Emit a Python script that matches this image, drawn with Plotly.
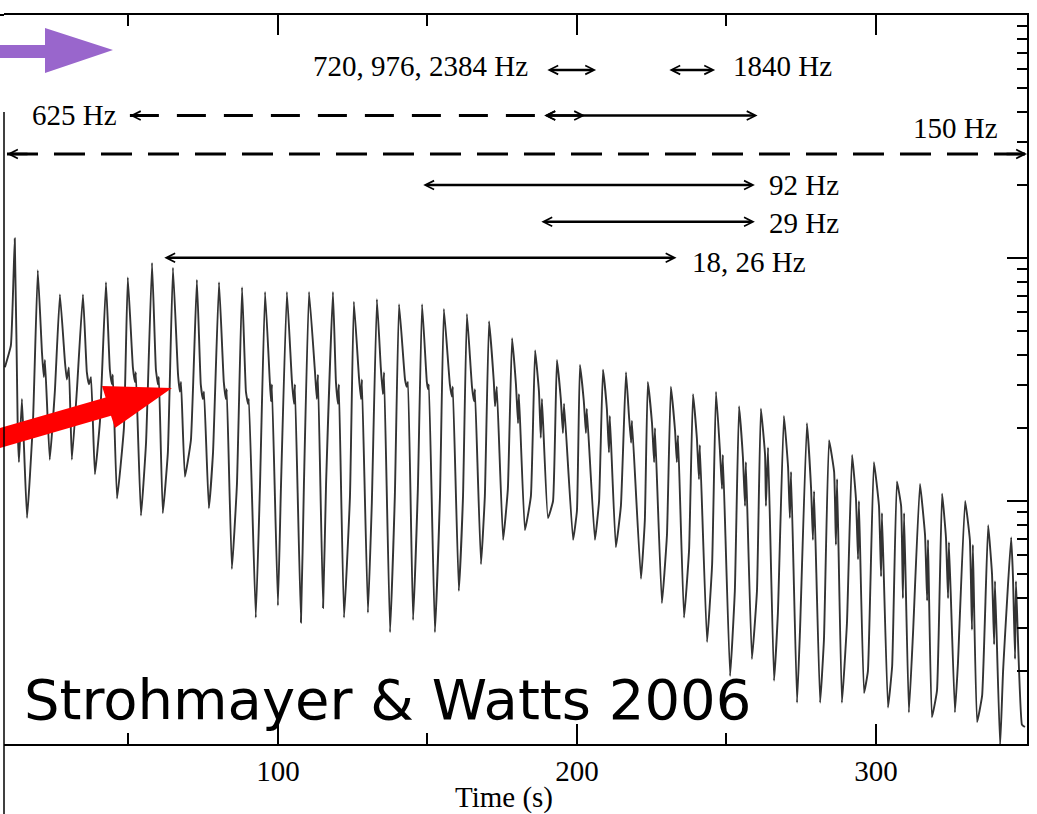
import plotly.graph_objects as go

# ---------------- light-curve data (time in s, log10 count rate) ----------------
start_t = [8.7, 10.7]
start_v = [4.55, 4.64]

peak_t = [12.0, 19.7, 27.1, 34.8, 42.5, 49.8, 57.9, 64.9, 72.9, 80.3,
          88.0, 95.7, 103.0, 110.4, 118.4, 125.4, 133.1, 140.5, 148.2, 155.5,
          163.2, 170.6, 178.3, 186.0, 193.3, 201.0, 208.7, 216.4, 223.7, 231.4,
          238.8, 246.5, 254.2, 261.5, 269.2, 276.9, 284.3, 292.0, 299.3, 307.0,
          314.7, 322.1, 329.8, 337.5, 345.2]
peak_v = [5.08, 4.95, 4.85, 4.85, 4.90, 4.92, 4.98, 4.96, 4.91, 4.90,
          4.88, 4.86, 4.86, 4.86, 4.86, 4.82, 4.83, 4.81, 4.81, 4.79,
          4.77, 4.74, 4.67, 4.62, 4.58, 4.56, 4.54, 4.53, 4.49, 4.47,
          4.44, 4.45, 4.39, 4.38, 4.35, 4.32, 4.25, 4.19, 4.16, 4.08,
          4.07, 4.03, 4.00, 3.90, 3.85]

shoulder_hi_t = [13.0, 21.1, 28.8, 36.1, 43.8, 51.5, 59.2, 66.6, 74.2, 81.9,
                 89.3, 97.3, 104.7, 112.4, 119.4, 127.1, 134.4, 142.5, 149.8, 157.5,
                 164.9, 172.2, 179.6, 187.3, 194.6, 202.3, 210.0, 217.4, 225.1, 232.8,
                 240.1, 247.8, 255.5, 262.9, 270.6, 278.3, 286.0, 293.3, 301.0, 308.4,
                 316.4, 323.4, 331.4, 338.8, 345.8]
shoulder_hi_v = [4.29, 4.61, 4.57, 4.53, 4.54, 4.55, 4.54, 4.52, 4.48, 4.49,
                 4.45, 4.49, 4.49, 4.53, 4.49, 4.51, 4.55, 4.50, 4.49, 4.48,
                 4.47, 4.49, 4.48, 4.45, 4.42, 4.41, 4.38, 4.35, 4.32, 4.29,
                 4.26, 4.21, 4.18, 4.19, 4.14, 4.05, 4.12, 4.01, 3.98, 3.98,
                 3.86, 3.85, 3.84, 3.70, 3.69]

shoulder_dip_t = [13.4, 21.7, 29.4, 36.8, 44.5, 52.2, 59.9, 67.2, 74.9, 82.6,
                  90.0, 97.7, 105.4, 113.0, 120.1, 127.8, 135.1, 143.1, 150.2, 158.2,
                  165.6, 172.6, 180.3, 187.9, 195.3, 203.0, 210.7, 218.1, 225.8, 233.4,
                  240.8, 248.5, 256.2, 263.2, 271.2, 278.9, 286.6, 294.0, 301.7, 309.0,
                  317.1, 324.1, 332.1, 339.5, 346.5]
shoulder_dip_v = [4.16, 4.51, 4.50, 4.48, 4.48, 4.49, 4.48, 4.45, 4.42, 4.42,
                  4.40, 4.41, 4.40, 4.42, 4.40, 4.42, 4.44, 4.47, 4.46, 4.43,
                  4.41, 4.39, 4.32, 4.26, 4.28, 4.28, 4.20, 4.24, 4.16, 4.16,
                  4.09, 4.05, 3.98, 3.98, 3.93, 3.84, 3.82, 3.76, 3.69, 3.60,
                  3.59, 3.60, 3.47, 3.41, 3.35]

shoulder_bump_t = [14.4, 22.1, 30.1, 37.5, 44.8, 52.5, 60.2, 67.6, 75.3, 82.9,
                   90.3, 98.0, 105.7, 113.4, 120.4, 128.1, 135.5, 143.5, 150.5, 158.5,
                   165.9, 173.2, 180.6, 188.3, 195.7, 203.3, 211.0, 218.4, 226.1, 233.8,
                   241.1, 248.8, 256.5, 263.9, 271.6, 279.3, 287.0, 294.3, 302.0, 309.4,
                   317.4, 324.4, 332.4, 339.8, 346.8]
shoulder_bump_v = [4.42, 4.58, 4.55, 4.51, 4.52, 4.53, 4.51, 4.49, 4.45, 4.46,
                   4.42, 4.48, 4.48, 4.52, 4.48, 4.50, 4.53, 4.49, 4.48, 4.47,
                   4.46, 4.47, 4.44, 4.42, 4.40, 4.38, 4.35, 4.33, 4.30, 4.27,
                   4.23, 4.19, 4.16, 4.22, 4.12, 4.04, 4.09, 4.00, 3.95, 3.95,
                   3.84, 3.83, 3.82, 3.67, 3.67]

trough_t = [16.1, 23.7, 31.1, 38.8, 46.2, 54.2, 61.5, 68.9, 76.9, 84.6,
            92.6, 100.0, 107.7, 115.1, 122.1, 130.1, 137.5, 145.2, 152.5, 160.5,
            167.9, 175.3, 182.6, 190.3, 198.7, 206.0, 213.0, 221.4, 228.4, 235.8,
            243.5, 251.2, 258.5, 265.9, 273.6, 281.3, 288.6, 296.0, 304.0, 311.0,
            318.7, 326.4, 333.8, 341.5, 348.8]
trough_v = [3.93, 4.17, 4.17, 4.11, 4.01, 3.94, 3.95, 4.10, 3.97, 3.72,
            3.52, 3.57, 3.50, 3.56, 3.52, 3.54, 3.46, 3.51, 3.46, 3.63,
            3.74, 3.84, 3.88, 3.93, 3.84, 3.84, 3.81, 3.68, 3.58, 3.52,
            3.42, 3.28, 3.35, 3.26, 3.17, 3.17, 3.17, 3.21, 3.15, 3.13,
            3.11, 3.13, 3.09, 2.99, 3.08]

rise_t = [18.1, 25.4, 32.8, 40.5, 48.5, 55.9, 63.2, 70.9, 78.3, 86.3,
          94.0, 101.0, 108.7, 116.1, 124.1, 131.4, 139.1, 146.8, 154.2, 161.9,
          169.2, 176.9, 184.6, 192.0, 200.0, 207.4, 214.7, 222.7, 230.1, 237.5,
          245.2, 252.8, 260.2, 267.2, 274.6, 282.6, 290.3, 297.3, 305.4, 312.4,
          320.4, 327.4, 335.5, 342.5]
rise_v = [4.33, 4.45, 4.46, 4.33, 4.30, 4.24, 4.20, 4.25, 4.20, 4.07,
          4.06, 4.05, 4.07, 4.07, 4.02, 3.99, 4.02, 4.05, 4.02, 4.02,
          4.02, 4.05, 4.02, 4.00, 3.96, 4.00, 3.98, 3.92, 3.86, 3.80,
          3.74, 3.63, 3.63, 3.54, 3.47, 3.43, 3.50, 3.30, 3.32, 3.46,
          3.22, 3.33, 3.20, 3.30]

end_t = [349.8]
end_v = [3.07]

# ---------------- QPO annotation data (time in s, log10 level) ----------------
solid_arrows = [  # (t_start, t_end, log level)
    (189.6, 206.4, 5.774),
    (230.4, 246.2, 5.774),
    (188.6, 260.4, 5.586),
    (188.6, 202.7, 5.586),
    (148.1, 259.5, 5.300),
    (187.6, 259.5, 5.149),
    (61.5, 233.3, 5.001),
]
dashed_lines = [  # (t_start, t_end, log level, dash)
    (50.5, 188.6, 5.586, "29px,18px"),
    (9.4, 350.5, 5.428, "31px,16px"),
]
dashed_heads = [  # (tip t, log level, tail offset px)
    (50.5, 5.586, 22),
    (9.4, 5.428, 22),
    (350.5, 5.428, -22),
]
qpo_labels = [  # (text, t, log level, anchor)
    ("720, 976, 2384 Hz", 184.3, 5.790, "right"),
    ("1840 Hz", 251.5, 5.790, "left"),
    ("625 Hz", 46.8, 5.590, "right"),
    ("150 Hz", 341.5, 5.535, "right"),
    ("92 Hz", 263.5, 5.300, "left"),
    ("29 Hz", 263.5, 5.146, "left"),
    ("18, 26 Hz", 237.8, 4.984, "left"),
]

# ---------------- assemble light curve ----------------
t = list(start_t)
v = list(start_v)
for i in range(len(peak_t)):
    t += [peak_t[i], shoulder_hi_t[i], shoulder_dip_t[i], shoulder_bump_t[i], trough_t[i]]
    v += [peak_v[i], shoulder_hi_v[i], shoulder_dip_v[i], shoulder_bump_v[i], trough_v[i]]
    if i < len(rise_t):
        t.append(rise_t[i])
        v.append(rise_v[i])
t += end_t
v += end_v
rate = [10 ** x for x in v]

SERIF = "Liberation Serif"
fig = go.Figure()
fig.add_trace(go.Scatter(x=t, y=rate, mode="lines",
                         line=dict(color="#333333", width=1.9, shape="spline",
                                   smoothing=0.35),
                         hoverinfo="skip", showlegend=False))

for t0, t1, lv, dash in dashed_lines:
    fig.add_trace(go.Scatter(x=[t0, t1], y=[10 ** lv, 10 ** lv], mode="lines",
                             line=dict(color="black", width=3, dash=dash),
                             hoverinfo="skip", showlegend=False))

annotations = []
for t0, t1, lv in solid_arrows:
    annotations.append(dict(x=t1, y=lv, ax=t0, ay=lv, xref="x", yref="y",
                            axref="x", ayref="y", text="", showarrow=True,
                            arrowside="end+start", arrowhead=5, startarrowhead=5,
                            arrowsize=0.7, startarrowsize=0.7, arrowwidth=2.5,
                            arrowcolor="black"))
for tt, lv, off in dashed_heads:
    annotations.append(dict(x=tt, y=lv, ax=off, ay=0, xref="x", yref="y",
                            text="", showarrow=True, arrowhead=5, arrowsize=0.7,
                            arrowwidth=2.5, arrowcolor="black"))
for txt, tt, lv, anc in qpo_labels:
    annotations.append(dict(x=tt, y=lv, xref="x", yref="y", text=txt,
                            showarrow=False, xanchor=anc, yanchor="middle",
                            font=dict(family=SERIF, size=29, color="black")))

# ---------------- overlay decorations (figure pixels -> paper) ----------------
W, H = 1037, 814
ML, MR, MT, MB = 4, 10, 15, 70
PW, PH = W - ML - MR, H - MT - MB


def px(xp, yp):
    return (xp - ML) / PW, (H - MB - yp) / PH


def path_of(points):
    s = ""
    for k, (a, b) in enumerate(points):
        X, Y = px(a, b)
        s += ("M" if k == 0 else "L") + f"{X:.5f},{Y:.5f} "
    return s + "Z"


purple_arrow = [(-2, 45), (45, 45), (45, 28), (113, 50), (45, 73), (45, 58), (-2, 58)]
red_arrow = [(-2, 428.6), (105.6, 397.4), (102, 386), (172, 388), (115, 428),
             (111, 415.8), (-2, 448.6)]

shapes = [
    dict(type="path", xref="paper", yref="paper", path=path_of(purple_arrow),
         fillcolor="rgb(153,102,204)", line=dict(width=0)),
    dict(type="path", xref="paper", yref="paper", path=path_of(red_arrow),
         fillcolor="rgb(255,0,0)", line=dict(width=0)),
]
x0p, y0p = px(4, 112)
x1p, y1p = px(4, 814)
shapes.append(dict(type="line", xref="paper", yref="paper", x0=x0p, y0=y0p,
                   x1=x1p, y1=y1p, line=dict(color="black", width=1.5)))
xa, ya = px(0, 15)
shapes.append(dict(type="line", xref="paper", yref="paper", x0=xa, y0=ya,
                   x1=0, y1=ya, line=dict(color="black", width=2)))

sx, sy = px(22, 699)
annotations.append(dict(x=sx, y=sy, xref="paper", yref="paper",
                        text="Strohmayer &amp; Watts 2006", showarrow=False,
                        xanchor="left", yanchor="middle",
                        font=dict(family="DejaVu Sans", size=56, color="black")))

tx, ty = px(504, 797)
annotations.append(dict(x=tx, y=ty, xref="paper", yref="paper", text="Time (s)",
                        showarrow=False, xanchor="center", yanchor="middle",
                        font=dict(family=SERIF, size=29, color="black")))

fig.update_layout(
    width=W, height=H,
    margin=dict(l=ML, r=MR, t=MT, b=MB),
    paper_bgcolor="white", plot_bgcolor="white",
    showlegend=False,
    annotations=annotations,
    shapes=shapes,
    xaxis=dict(range=[8.4, 350.5], tick0=0, dtick=100, ticks="inside",
               ticklen=20, tickwidth=1.6, tickcolor="black",
               showline=True, linecolor="black", linewidth=2, mirror="ticks",
               showgrid=False, zeroline=False,
               tickfont=dict(family=SERIF, size=29, color="black"),
               minor=dict(tickvals=[50, 150, 250], ticks="inside", ticklen=11,
                          tickwidth=1.6, tickcolor="black", showgrid=False)),
    yaxis=dict(type="log", range=[3, 6], side="right", dtick=1,
               ticks="inside", ticklen=20, tickwidth=1.6, tickcolor="black",
               showticklabels=False, showline=True, linecolor="black",
               linewidth=2, showgrid=False, zeroline=False,
               minor=dict(dtick="D1", ticks="inside", ticklen=10, tickwidth=1.6,
                          tickcolor="black", showgrid=False)),
)

fig.write_html("out.html")
